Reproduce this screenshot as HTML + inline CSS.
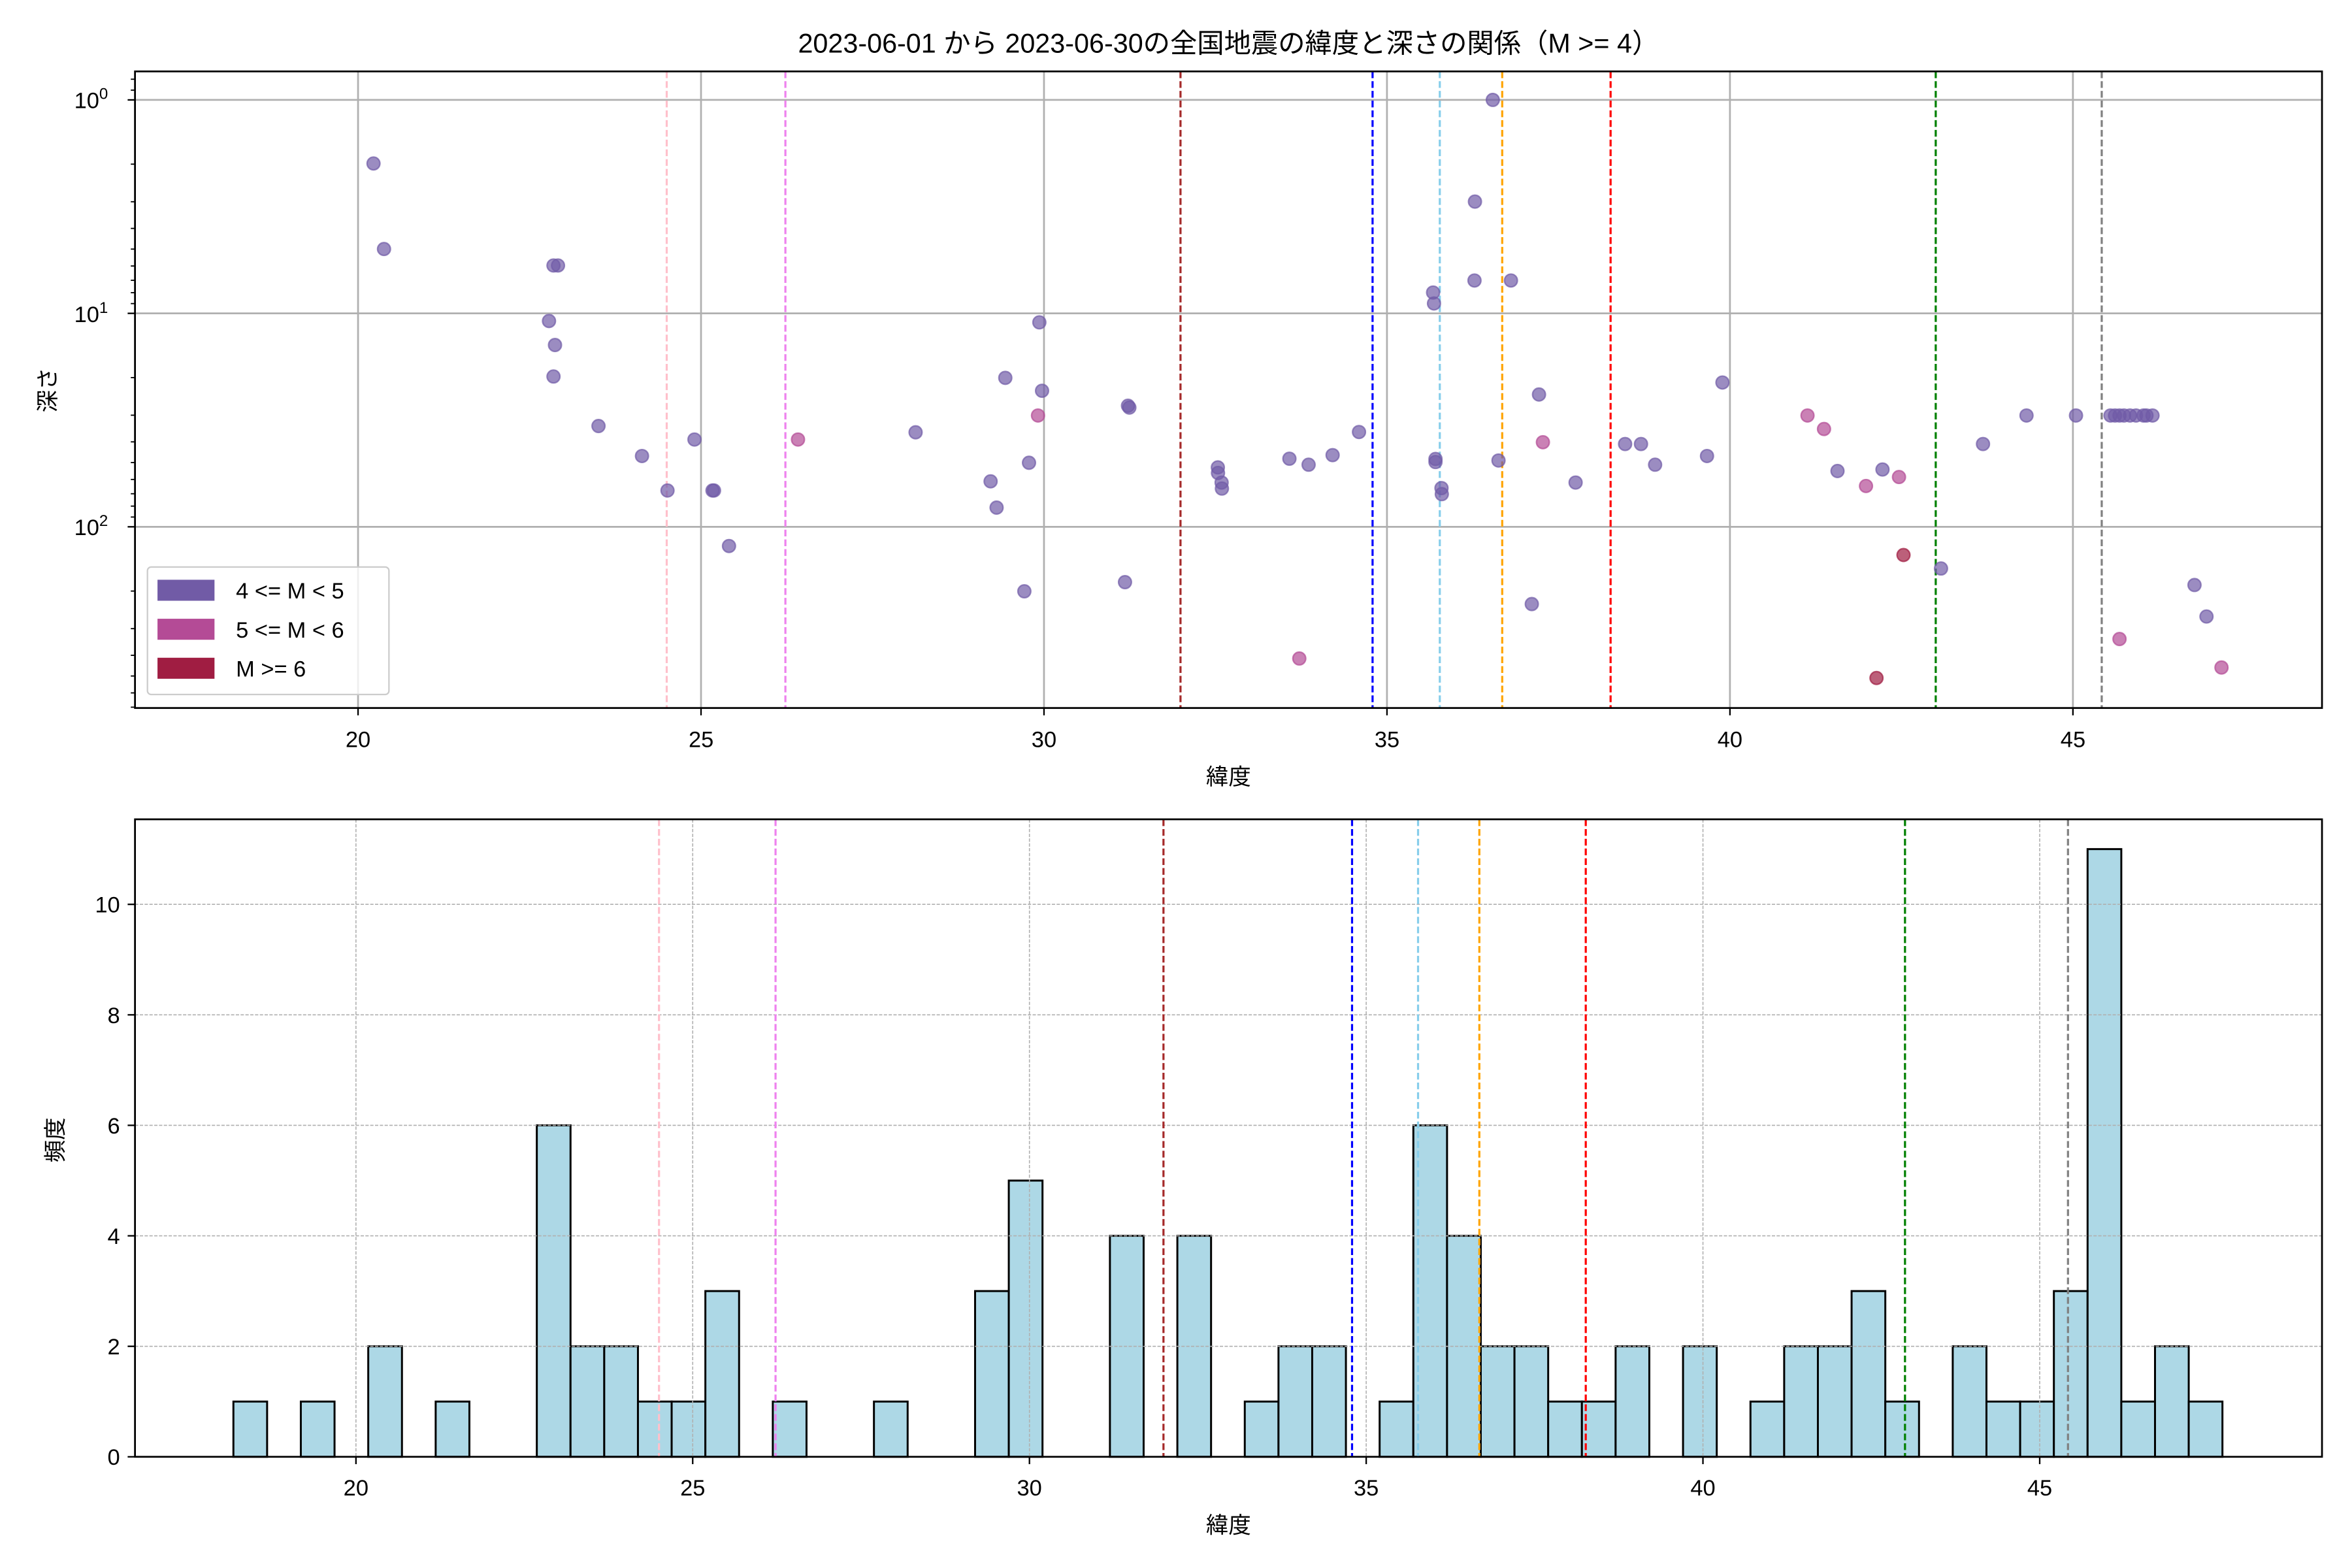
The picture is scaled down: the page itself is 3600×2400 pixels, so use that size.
<!DOCTYPE html>
<html><head><meta charset="utf-8"><style>
html,body{margin:0;padding:0;background:#fff}
svg{display:block}
text{font-family:"Liberation Sans","Noto Sans CJK JP",sans-serif;fill:#000}
</style></head><body>
<svg id="s" width="3600" height="2400" viewBox="0 0 1568 1045.33" xmlns="http://www.w3.org/2000/svg">
<rect width="1568" height="1045.33" fill="#fff"/>
<g id="g1"></g>
<g id="g2"></g>
<text x="819" y="35" font-size="18" text-anchor="middle">2023-06-01 から 2023-06-30の全国地震の緯度と深さの関係（M &gt;= 4）</text>
<g font-size="15" text-anchor="middle">
<text x="238.7" y="498">20</text><text x="467.4" y="498">25</text><text x="696" y="498">30</text>
<text x="924.7" y="498">35</text><text x="1153.3" y="498">40</text><text x="1382" y="498">45</text>
<text x="819" y="523">緯度</text>
<text x="237.3" y="997">20</text><text x="461.8" y="997">25</text><text x="686.3" y="997">30</text>
<text x="910.8" y="997">35</text><text x="1135.3" y="997">40</text><text x="1359.8" y="997">45</text>
<text x="819" y="1022">緯度</text>
</g>
<g font-size="15" text-anchor="end">
<text x="72" y="72">10<tspan font-size="10.5" dy="-6">0</tspan></text>
<text x="72" y="214.7">10<tspan font-size="10.5" dy="-6">1</tspan></text>
<text x="72" y="356.7">10<tspan font-size="10.5" dy="-6">2</tspan></text>
<text x="80" y="976.6">0</text><text x="80" y="902.9">2</text><text x="80" y="829.3">4</text>
<text x="80" y="755.6">6</text><text x="80" y="682">8</text><text x="80" y="608.3">10</text>
</g>
<text font-size="15" text-anchor="middle" transform="translate(37,260) rotate(-90)">深さ</text>
<text font-size="15" text-anchor="middle" transform="translate(42,760) rotate(-90)">頻度</text>
<g>
<rect x="98.3" y="378" width="161" height="85" rx="2.5" fill="#fff" fill-opacity="0.8" stroke="#ccc" stroke-width="1"/>
<rect x="105" y="386.5" width="38" height="14" fill="#715ba6"/>
<rect x="105" y="412.5" width="38" height="14" fill="#b44b96"/>
<rect x="105" y="438.5" width="38" height="14" fill="#a01d42"/>
<g font-size="15"><text x="157.3" y="399">4 &lt;= M &lt; 5</text><text x="157.3" y="425">5 &lt;= M &lt; 6</text><text x="157.3" y="451">M &gt;= 6</text></g>
</g>
</svg>
<script>
var NS="http://www.w3.org/2000/svg";
function el(p,t,a){var e=document.createElementNS(NS,t);for(var k in a)e.setAttribute(k,a[k]);p.appendChild(e);return e;}
var g1=document.getElementById('g1'),g2=document.getElementById('g2');
var L=90,T=47.6,R=1548,B=472;
function X1(v){return 238.7+(v-20)*45.73;}
function Y1(lg){return 66.6+lg*142.3;}
for(var v=20;v<=45;v+=5){el(g1,'line',{x1:X1(v),x2:X1(v),y1:T,y2:B,stroke:'#b0b0b0','stroke-width':1.2});}
[0,1,2].forEach(function(d){el(g1,'line',{x1:L,x2:R,y1:Y1(d),y2:Y1(d),stroke:'#b0b0b0','stroke-width':1.2});});
var vl=[[24.5,'pink'],[26.23,'violet'],[31.99,'brown'],[34.79,'blue'],[35.77,'skyblue'],[36.68,'orange'],[38.26,'red'],[43.0,'green'],[45.42,'gray']];
vl.forEach(function(a){el(g1,'line',{x1:X1(a[0]),x2:X1(a[0]),y1:T,y2:B,stroke:a[1],'stroke-width':1.4,'stroke-dasharray':'4.5,2'});});
var P=[[249,109],[256,166],[369,177],[372,177],[366,214],[370,230],[369,251],[399,284],[428,304],[463,293],[445,327],[475,327],[476,327],[486,364],
[610.4,288.2],[660.4,320.9],[664.4,338.4],[670.2,251.9],[692.9,214.9],[694.7,260.5],[686,308.5],[682.9,394.2],[752.9,271.7],[752,270.5],[750,388.1],
[811.9,311.6],[812,315.3],[814.4,321.7],[814.6,325.7],[859.6,305.8],[872.4,309.8],[888.4,303.4],[906,288],[955.4,195],[956,202.3],[957,306],[957,308],[961,325.4],[961.2,329.4],
[995.2,66.6],[983.3,134.4],[983,187],[1007.3,187],[999,307],[1026,263],[1021.2,402.7],[1050.4,321.7],[1083.4,296],[1094,296],[1103.4,309.8],[1138,304],[1148.3,255],
[1225,314],[1255,313],[1294,379],[1322,296],[1351,277],[1384,277],[1407,277],[1410,277],[1413,277],[1416,277],[1420,277],[1424,277],[1429,277],[1431,277],[1435,277],[1463,390],[1471,411]];
var Pm=[[692,277],[532,293],[866.2,439],[1028.6,294.8],[1205,277],[1216,286],[1244,324],[1266,318],[1413,426],[1481,445]];
var Pr=[[1269,370],[1251,452]];
function dots(arr,c){arr.forEach(function(p){el(g1,'circle',{cx:p[0],cy:p[1],r:4.3,fill:c,'fill-opacity':0.7,stroke:c,'stroke-opacity':0.7,'stroke-width':1});});}
dots(P,'#715ba6');dots(Pm,'#b44b96');dots(Pr,'#a01d42');
el(g1,'rect',{x:L,y:T,width:R-L,height:B-T,fill:'none',stroke:'#000','stroke-width':1.2});
for(var v=20;v<=45;v+=5)el(g1,'line',{x1:X1(v),x2:X1(v),y1:B,y2:B+4.9,stroke:'#000','stroke-width':1});
[0,1,2].forEach(function(d){el(g1,'line',{x1:L-4.9,x2:L,y1:Y1(d),y2:Y1(d),stroke:'#000','stroke-width':1});});
for(var d=-1;d<=2;d++)for(var k=2;k<=9;k++){var y=Y1(d+Math.log10(k));if(y>=T&&y<=B)el(g1,'line',{x1:L-2.8,x2:L,y1:y,y2:y,stroke:'#000','stroke-width':0.8});}
var T2=546.2,B2=971.2;
function X2(v){return 237.3+(v-20)*44.9;}
function Y2(c){return B2-c*36.83;}
var cnt={0:1,2:1,4:2,6:1,9:6,10:2,11:2,12:1,13:1,14:3,16:1,19:1,22:3,23:5,26:4,28:4,30:1,31:2,32:2,34:1,35:6,36:4,37:2,38:2,39:1,40:1,41:2,43:2,45:1,46:2,47:2,48:3,49:1,51:2,52:1,53:1,54:3,55:11,56:1,57:2,58:1};
var x0=155.6,w=22.475;
for(var i in cnt){var c=cnt[i];el(g2,'rect',{x:x0+i*w,y:Y2(c),width:w,height:c*36.83,fill:'#add8e6',stroke:'#000','stroke-width':1.3});}
for(var v=20;v<=45;v+=5)el(g2,'line',{x1:X2(v),x2:X2(v),y1:T2,y2:B2,stroke:'#b0b0b0','stroke-width':0.7,'stroke-dasharray':'2.2,1'});
for(var c=0;c<=10;c+=2)el(g2,'line',{x1:L,x2:R,y1:Y2(c),y2:Y2(c),stroke:'#b0b0b0','stroke-width':0.7,'stroke-dasharray':'2.2,1'});
vl.forEach(function(a){el(g2,'line',{x1:X2(a[0]),x2:X2(a[0]),y1:T2,y2:B2,stroke:a[1],'stroke-width':1.4,'stroke-dasharray':'4.5,2'});});
el(g2,'rect',{x:L,y:T2,width:R-L,height:B2-T2,fill:'none',stroke:'#000','stroke-width':1.2});
for(var v=20;v<=45;v+=5)el(g2,'line',{x1:X2(v),x2:X2(v),y1:B2,y2:B2+4.9,stroke:'#000','stroke-width':1});
for(var c=0;c<=10;c+=2)el(g2,'line',{x1:L-4.9,x2:L,y1:Y2(c),y2:Y2(c),stroke:'#000','stroke-width':1});
</script>
</body></html>
